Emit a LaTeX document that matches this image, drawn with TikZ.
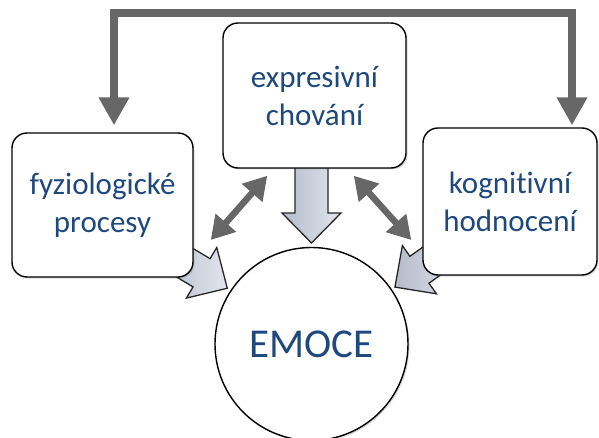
\documentclass[tikz,border=0pt]{standalone}
\usepackage{fontspec}
\setmainfont{Carlito}[Ligatures={NoCommon}]
\usetikzlibrary{arrows.meta,shadows,backgrounds}
\definecolor{txtblue}{HTML}{1F497D}
\definecolor{arrgray}{HTML}{676767}
\definecolor{blkdark}{HTML}{B4BBCB}
\definecolor{blklight}{HTML}{E2E5EC}
\newcommand{\blockarr}[3]{%
  \draw[blockarrow,shift={(#1)},rotate=#2] (0,0) -- (-30,29.5) -- (-30,16.5) -- (-#3,16.5)
    -- (-#3,-16.5) -- (-30,-16.5) -- (-30,-29.5) -- cycle;}

\begin{document}
\begin{tikzpicture}[line cap=round,line join=round,x=1pt,y=1pt,
  box/.style={draw=black,line width=1.4pt,fill=white,rounded corners=15pt,align=center,
    text=txtblue,font=\fontsize{31}{38}\selectfont,inner sep=0pt,
    drop shadow={shadow xshift=1.5pt,shadow yshift=-1.5pt,opacity=0.3}},
  feedback/.style={draw=arrgray,line width=8pt,line cap=butt,line join=miter,
    {Triangle[length=28pt,width=29pt]}-{Triangle[length=28pt,width=29pt]}},
  link/.style={draw=arrgray,line width=6.5pt,line cap=butt,
    {Triangle[length=23pt,width=26pt]}-{Triangle[length=23pt,width=26pt]}},
  blockarrow/.style={draw=black!85,line width=1.3pt,line join=miter,
    left color=blkdark,right color=blklight}]
\useasboundingbox (0,0) rectangle (599,437);
\node[box,minimum width=181,minimum height=144] (fyz) at (102.5,232) {fyziologické\\procesy};
\node[box,minimum width=183,minimum height=145] (chov) at (314.5,341.5) {expresivní\\chování};
\node[box,minimum width=174,minimum height=147] (hodn) at (510,235.5) {kognitivní\\hodnocení};
\node[circle,draw=black,line width=1.4pt,fill=white,minimum size=193,inner sep=0pt,
  text=txtblue,font=\fontsize{41}{49}\selectfont,
  drop shadow={shadow xshift=1.5pt,shadow yshift=-1.5pt,opacity=0.3}] (emoce) at (311.5,93) {EMOCE};
\draw[feedback] ([xshift=11.5pt,yshift=7pt]fyz.north) -- ++(0,112) -| ([xshift=62pt,yshift=2pt]hodn.north);
\draw[link] ([shift={(17,-35)}]fyz.east) -- ([shift={(45,-7)}]chov.south west);
\draw[link] ([shift={(-53,-7)}]chov.south east) -- ([shift={(-11,-38.5)}]hodn.west);
\begin{scope}[on background layer]
\path (emoce.center) ++(146.5:101) coordinate (tipL);
\path (emoce.center) ++(90:101) coordinate (tipM);
\path (emoce.center) ++(34.3:101) coordinate (tipR);
\blockarr{tipL}{-31}{75}
\blockarr{tipM}{-90}{100}
\blockarr{tipR}{-144.7}{75}
\end{scope}
\end{tikzpicture}
\end{document}
